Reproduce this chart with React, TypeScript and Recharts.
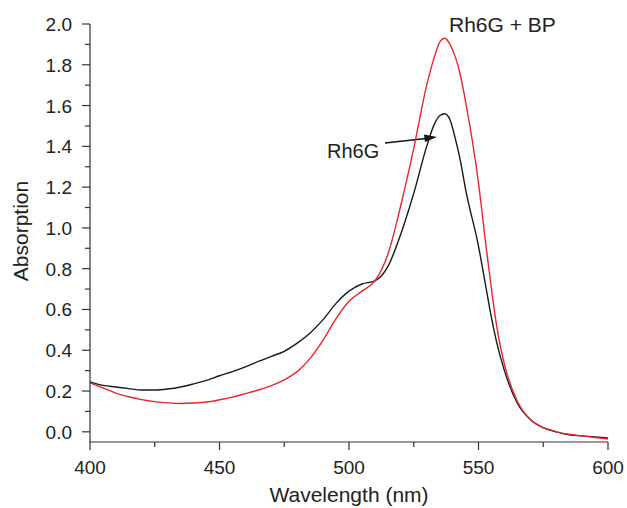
import React from 'react';
import { LineChart, Line, XAxis, YAxis } from 'recharts';

const wavelengths = [400, 405, 410, 415, 420, 425, 430, 435, 440, 445, 450, 455, 460, 465, 470, 475, 480, 485, 490, 495, 500, 505, 510, 515, 520, 525, 530, 533, 535, 537, 539, 541, 543, 545, 550, 553, 555, 557, 560, 565, 570, 575, 580, 585, 590, 595, 600];
const rh6g = [0.245, 0.228, 0.22, 0.212, 0.205, 0.205, 0.21, 0.22, 0.235, 0.252, 0.275, 0.295, 0.318, 0.345, 0.37, 0.395, 0.435, 0.485, 0.55, 0.63, 0.69, 0.725, 0.74, 0.81, 0.97, 1.17, 1.4, 1.51, 1.55, 1.56, 1.53, 1.44, 1.33, 1.19, 0.91, 0.7, 0.56, 0.44, 0.3, 0.14, 0.06, 0.02, 0.0, -0.015, -0.02, -0.025, -0.03];
const rh6gBP = [0.24, 0.215, 0.19, 0.172, 0.158, 0.148, 0.142, 0.139, 0.141, 0.146, 0.157, 0.17, 0.187, 0.205, 0.226, 0.255, 0.295, 0.36, 0.45, 0.555, 0.64, 0.69, 0.74, 0.87, 1.11, 1.39, 1.7, 1.84, 1.91, 1.93, 1.9, 1.84, 1.75, 1.62, 1.22, 0.9, 0.7, 0.52, 0.33, 0.15, 0.06, 0.02, 0.0, -0.012, -0.02, -0.028, -0.035];

const xTicks = [400, 425, 450, 475, 500, 525, 550, 575, 600];
const xMajor = [400, 450, 500, 550, 600];
const yTicks = [0, 0.1, 0.2, 0.3, 0.4, 0.5, 0.6, 0.7, 0.8, 0.9, 1.0, 1.1, 1.2, 1.3, 1.4, 1.5, 1.6, 1.7, 1.8, 1.9, 2.0];
const yMajor = [0, 0.2, 0.4, 0.6, 0.8, 1.0, 1.2, 1.4, 1.6, 1.8, 2.0];

const data = wavelengths.map((w, i) => ({ w, a: rh6g[i], b: rh6gBP[i] }));

const FONT = '"Liberation Sans", Arial, sans-serif';
const AX = '#333';

const isMajor = (arr: number[], v: number) => arr.some((m) => Math.abs(m - v) < 1e-6);

const XTick = (props: any) => {
  const { x, y, payload } = props;
  const major = isMajor(xMajor, payload.value);
  return (
    <g>
      <line x1={x} x2={x} y1={y} y2={y + (major ? 8 : 5)} stroke={AX} strokeWidth={1.2} />
      {major && (
        <text x={x} y={y + 32} textAnchor="middle" fontSize={19} fill="#222" fontFamily={FONT}>
          {payload.value}
        </text>
      )}
    </g>
  );
};

const YTick = (props: any) => {
  const { x, y, payload } = props;
  const major = isMajor(yMajor, payload.value);
  return (
    <g>
      <line x1={x} x2={x - (major ? 8 : 5)} y1={y} y2={y} stroke={AX} strokeWidth={1.2} />
      {major && (
        <text x={x - 18} y={y + 7} textAnchor="end" fontSize={19} fill="#222" fontFamily={FONT}>
          {Number(payload.value).toFixed(1)}
        </text>
      )}
    </g>
  );
};

const YLabel = () => (
  <text x={28} y={231} transform="rotate(-90 28 231)" textAnchor="middle" fontSize={21} fill="#222" fontFamily={FONT}>
    Absorption
  </text>
);

const XLabel = () => (
  <text x={349} y={502} textAnchor="middle" fontSize={21} fill="#222" fontFamily={FONT}>
    Wavelength (nm)
  </text>
);

const Annotations = () => (
  <g fontFamily={FONT} fill="#222">
    <text x={449} y={32} fontSize={21}>Rh6G + BP</text>
    <text x={327} y={158} fontSize={20}>Rh6G</text>
    <line x1={385} y1={143} x2={426} y2={138.5} stroke="#111" strokeWidth={1.3} />
    <polygon points="437,137 424,134.5 425,142" fill="#111" />
  </g>
);

export default function App() {
  return (
    <div style={{ position: 'absolute', left: 0, top: 0, background: '#fff' }}>
      <LineChart width={627} height={508} data={data} margin={{ top: 24, right: 19, left: 0, bottom: 0 }}>
        <XAxis
          dataKey="w"
          type="number"
          domain={[400, 600]}
          ticks={xTicks}
          interval={0}
          tickSize={0}
          tickMargin={0}
          tickLine={false}
          tick={<XTick />}
          height={66}
          stroke={AX}
          strokeWidth={1.2}
          label={<XLabel />}
        />
        <YAxis
          type="number"
          domain={[-0.05, 2.0]}
          ticks={yTicks}
          interval={0}
          tickSize={0}
          tickMargin={0}
          tickLine={false}
          tick={<YTick />}
          width={90}
          stroke={AX}
          strokeWidth={1.2}
          allowDataOverflow
          label={<YLabel />}
        />
        <Line type="monotone" dataKey="a" stroke="#1a1a1a" strokeWidth={1.4} dot={false} isAnimationActive={false} />
        <Line type="monotone" dataKey="b" stroke="#e8262a" strokeWidth={1.4} dot={false} isAnimationActive={false} />
        <Annotations />
      </LineChart>
    </div>
  );
}
